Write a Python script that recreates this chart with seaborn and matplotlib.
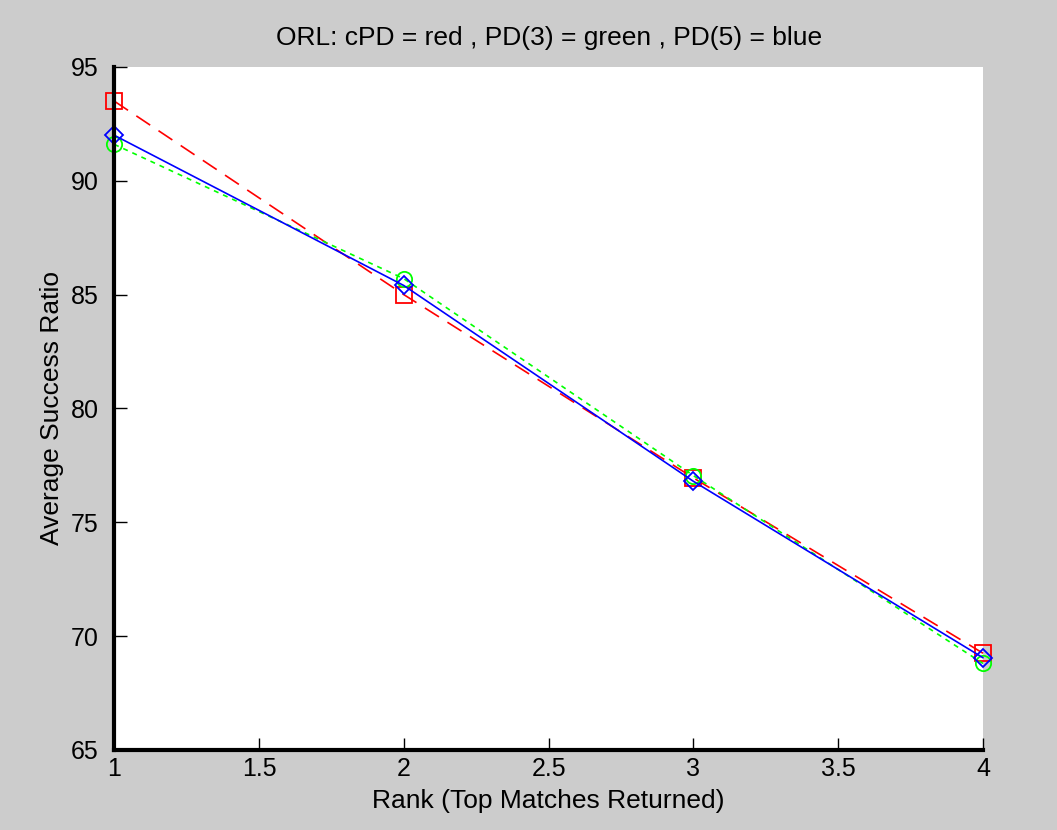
import matplotlib
matplotlib.use("Agg")
import matplotlib.pyplot as plt
import seaborn as sns
import pandas as pd

# values
rank = [1, 2, 3, 4]
cpd = [93.5, 85.0, 76.95, 69.25]
pd3 = [91.6, 85.7, 77.05, 68.8]
pd5 = [92.0, 85.4, 76.8, 69.05]

sns.set_theme(style="white")
plt.rcParams.update({
    "font.family": ["Liberation Sans", "DejaVu Sans"],
    "figure.facecolor": "#cccccc",
    "axes.facecolor": "#ffffff",
    "text.color": "black",
    "axes.labelcolor": "black",
})

df = pd.DataFrame({"rank": rank * 3,
                   "ratio": cpd + pd3 + pd5,
                   "series": ["cPD"] * 4 + ["PD(3)"] * 4 + ["PD(5)"] * 4})

fig = plt.figure(figsize=(10.57, 8.30), dpi=100)
ax = fig.add_axes([0.108, 0.0964, 0.822, 0.823])

styles = {
    "cPD": dict(color="#ff0000", marker="s", ls=(0, (10, 6))),
    "PD(3)": dict(color="#00ff00", marker="o", ls=(0, (3, 3))),
    "PD(5)": dict(color="#0000ff", marker="D", ls="-"),
}
for name, st in styles.items():
    sub = df[df["series"] == name]
    sns.lineplot(data=sub, x="rank", y="ratio", ax=ax, color=st["color"],
                 linestyle=st["ls"], linewidth=1.2, marker=st["marker"],
                 markersize=11 if st["marker"] != "D" else 9,
                 markerfacecolor="none", markeredgecolor=st["color"],
                 markeredgewidth=1.3, legend=False, clip_on=False)

ax.set_xlim(1, 4)
ax.set_ylim(65, 95)
ax.set_xticks([1, 1.5, 2, 2.5, 3, 3.5, 4])
ax.set_xticklabels(["1", "1.5", "2", "2.5", "3", "3.5", "4"])
ax.set_yticks(range(65, 96, 5))
ax.tick_params(direction="in", length=9, width=1, labelsize=18, color="black",
               labelcolor="black", bottom=True, left=True)
ax.tick_params(axis="y", pad=11)
ax.tick_params(axis="x", pad=5)
for s in ["top", "right"]:
    ax.spines[s].set_visible(False)
for s in ["left", "bottom"]:
    ax.spines[s].set_color("black")
    ax.spines[s].set_linewidth(3)

ax.set_title("ORL: cPD = red , PD(3) = green , PD(5) = blue", fontsize=19, pad=16)
ax.set_xlabel("Rank (Top Matches Returned)", fontsize=19, labelpad=6)
ax.set_ylabel("Average Success Ratio", fontsize=19, labelpad=5)

fig.savefig("out.png", dpi=100, facecolor=fig.get_facecolor())
